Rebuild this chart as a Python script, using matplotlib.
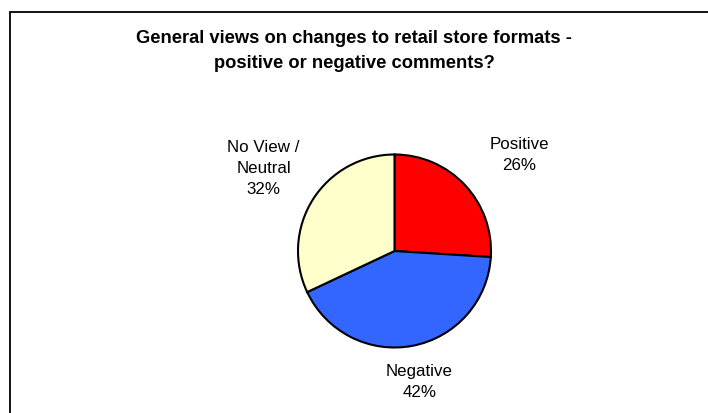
import numpy as np
import matplotlib.pyplot as plt
from matplotlib.patches import Rectangle

# Survey shares, in the order drawn (clockwise from 12 o'clock)
categories = ['Positive', 'Negative', 'No View /\nNeutral']
shares = [26, 42, 32]
colors = ['#FF0000', '#3366FF', '#FFFFCC']
label_dist = [1.63, 1.38, 1.60]
label_turn = [-5.6, 0.0, 0.3]   # degrees nudged off the wedge mid-angle

title = 'General views on changes to retail store formats -\npositive or negative comments?'

plt.rcParams['font.family'] = ['Liberation Sans', 'DejaVu Sans']

W, H = 708, 413
fig = plt.figure(figsize=(W / 100, H / 100), dpi=100)

# chart area border (runs off the right and bottom edges)
fig.patches.append(Rectangle((9.5 / W, -0.1), 1.2, 1.1 - 12.5 / H,
                             transform=fig.transFigure, fill=False,
                             edgecolor='black', linewidth=1.3))

fig.text(0.5, 1 - 51 / H, title, ha='center', va='center',
         fontsize=13.2, fontweight='bold', linespacing=1.55)

# pie axes: centre (394.5, 251) px, radius 96.5 px
cx, cy, r = 394.5, H - 251, 96.5
ax = fig.add_axes([(cx - r) / W, (cy - r) / H, 2 * r / W, 2 * r / H])
wedges, _ = ax.pie(shares, colors=colors, startangle=90, counterclock=False,
                   radius=1, wedgeprops=dict(edgecolor='black', linewidth=1.5))
ax.set_xlim(-1, 1)
ax.set_ylim(-1, 1)
ax.set_aspect('equal')
ax.axis('off')

for w, name, val, d, t in zip(wedges, categories, shares, label_dist, label_turn):
    mid = np.radians((w.theta1 + w.theta2) / 2 + t)
    ax.text(d * np.cos(mid), d * np.sin(mid), f'{name}\n{val}%',
            ha='center', va='center', fontsize=12.2, linespacing=1.5,
            clip_on=False)

fig.savefig('out.png', dpi=100)
